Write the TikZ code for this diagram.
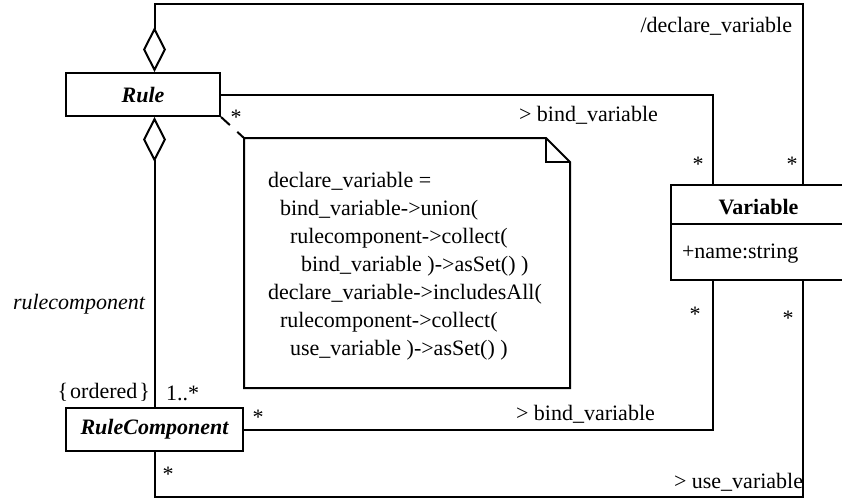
\documentclass[tikz,border=0pt]{standalone}
\usepackage{fontspec}
\setmainfont{Liberation Serif}
\usetikzlibrary{arrows.meta,calc}
\begin{document}
\begin{tikzpicture}[x=0.5pt,y=-0.5pt,
  line width=1pt,
  basefont/.style={font=\fontsize{11pt}{14pt}\selectfont},
  every node/.style={basefont, inner sep=0pt},
  classbox/.style={draw, minimum height=21.5pt, font=\fontsize{11pt}{14pt}\selectfont\bfseries\itshape},
  lbl/.style={anchor=base west},
  lblr/.style={anchor=base east},
  mult/.style={anchor=base},
  agg/.style={{Diamond[open,length=22.5pt,width=11.5pt]}-},
  notelink/.style={dash pattern=on 6pt off 5pt},
]
\useasboundingbox (0,0) rectangle (842,499);
\clip (0,0) rectangle (842,499);

% classes
\node[classbox, minimum width=77pt] (rule) at (143,94.5) {Rule};
\node[classbox, minimum width=88.5pt] (rc) at (154.5,429.5) {RuleComponent};
\node[draw, minimum width=87.5pt, minimum height=47.5pt] (var) at (758.5,232.5) {};
\node[font=\fontsize{11pt}{14pt}\selectfont\bfseries] (vart) at (758.5,207) {Variable};
\draw ($(var.north west)+(0,40)$) -- ($(var.north east)+(0,40)$);
\node[anchor=base west] (vara) at (681,258) {+name:string};

% attachment points
\coordinate (vTL) at ($(var.north west)+(43,0)$);
\coordinate (vTR) at ($(var.north west)+(133,0)$);
\coordinate (vBL) at ($(var.south west)+(43,0)$);
\coordinate (vBR) at ($(var.south west)+(133,0)$);
\coordinate (rT) at ($(rule.north)+(11.5,0)$);
\coordinate (rB) at ($(rule.south)+(11.5,0)$);

% associations
\draw[agg] (rT) -- ++(0,-68) -| (vTR);
\draw (rule.east) -| (vTL);
\draw[agg] (rB) -- (rB |- rc.north);
\draw (rc.east) -| (vBL);
\draw (rc.south) -- ++(0,45) -| (vBR);

% note
\node[minimum width=162pt, minimum height=124pt] (note) at (407,263) {};
\draw (note.north west) -- ($(note.north east)+(-24,0)$) -- ($(note.north east)+(0,24)$) -- (note.south east) -- (note.south west) -- cycle;
\draw ($(note.north east)+(-24,0)$) |- ($(note.north east)+(0,24)$);
\draw[notelink] (rule.south east) -- (note.north west);

\node[lbl] (n1) at (267,187) {declare\_variable =};
\node[lbl] (n2) at (279,215) {bind\_variable->union(};
\node[lbl] (n3) at (289,243) {rulecomponent->collect(};
\node[lbl] (n4) at (300,271) {bind\_variable )->asSet() )};
\node[lbl] (n5) at (267,299) {declare\_variable->includesAll(};
\node[lbl] (n6) at (279,327) {rulecomponent->collect(};
\node[lbl] (n7) at (289,355) {use\_variable )->asSet() )};

% role labels
\node[lblr] (ldecl) at (793,32) {/declare\_variable};
\node[lbl] (lbind1) at (518,121) {> bind\_variable};
\node[lbl] (lbind2) at (515,420) {> bind\_variable};
\node[lbl] (luse) at (673,488) {> use\_variable};
\node[lblr, font=\fontsize{11pt}{14pt}\selectfont\itshape] (lrc) at (146,309) {rulecomponent};
\node[lblr] (lord) at (151,398) {\{\kern1pt ordered\kern1pt\}};
\node[lbl] (lmul) at (165,400) {1..*};

% multiplicities
\node[mult] (s1) at (236,124) {*};
\node[mult] (s2) at (698,171) {*};
\node[mult] (s3) at (792,171) {*};
\node[mult] (s4) at (695,321) {*};
\node[mult] (s5) at (788,325) {*};
\node[mult] (s6) at (258,424) {*};
\node[mult] (s7) at (168,481) {*};
\end{tikzpicture}
\end{document}
